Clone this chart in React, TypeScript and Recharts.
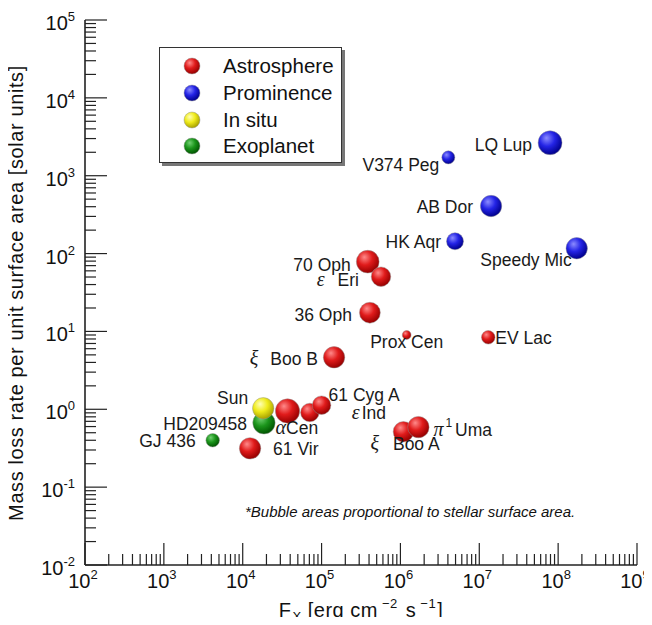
import { ScatterChart, Scatter, XAxis, YAxis, ZAxis, LabelList } from 'recharts';

// F_x [erg cm^-2 s^-1], mass loss per unit area [solar], area = relative stellar surface area
const astrosphere = [
  { name: 'ε Ind', fx: 7.1e4, mdot: 0.91, area: 0.75 },
  { name: 'αCen', fx: 3.7e4, mdot: 0.95, area: 1.29 },
  { name: '61 Cyg A', fx: 1.0e5, mdot: 1.13, area: 0.75 },
  { name: '61 Vir', fx: 1.24e4, mdot: 0.315, area: 1.0 },
  { name: 'ξ Boo A', fx: 1.09e6, mdot: 0.515, area: 0.91 },
  { name: 'π1 Uma', fx: 1.69e6, mdot: 0.59, area: 1.0 },
  { name: 'ξ Boo B', fx: 1.44e5, mdot: 4.65, area: 1.0 },
  { name: 'Prox Cen', fx: 1.2e6, mdot: 9.0, area: 0.17 },
  { name: 'EV Lac', fx: 1.3e7, mdot: 8.4, area: 0.4 },
  { name: '36 Oph', fx: 4.1e5, mdot: 17.4, area: 0.95 },
  { name: '70 Oph', fx: 3.85e5, mdot: 78.7, area: 1.13 },
  { name: 'ε Eri', fx: 5.67e5, mdot: 50.5, area: 0.83 },
];

const prominence = [
  { name: 'LQ Lup', fx: 7.9e7, mdot: 2650, area: 1.25 },
  { name: 'V374 Peg', fx: 4.05e6, mdot: 1720, area: 0.37 },
  { name: 'AB Dor', fx: 1.41e7, mdot: 408, area: 1.0 },
  { name: 'HK Aqr', fx: 4.92e6, mdot: 144, area: 0.63 },
  { name: 'Speedy Mic', fx: 1.72e8, mdot: 117, area: 1.0 },
];

const inSitu = [{ name: 'Sun', fx: 1.82e4, mdot: 1.03, area: 1.0 }];

const exoplanet = [
  { name: 'HD209458', fx: 1.86e4, mdot: 0.67, area: 1.09 },
  { name: 'GJ 436', fx: 4.16e3, mdot: 0.4, area: 0.4 },
];

const xExponents = [2, 3, 4, 5, 6, 7, 8, 9];
const yExponents = [-2, -1, 0, 1, 2, 3, 4, 5];

const legendItems = [
  { label: 'Astrosphere', color: 'red' },
  { label: 'Prominence', color: 'blue' },
  { label: 'In situ', color: 'yellow' },
  { label: 'Exoplanet', color: 'green' },
];

const footnote = '*Bubble areas proportional to stellar surface area.';

// ---- layout / styling ----
const AXIS = '#222';
const SUN_PX = 360; // symbol area (px^2) for one solar surface area
const FONT = '"Liberation Sans", Arial, Helvetica, sans-serif';

const sphere: Record<string, [string, string, string]> = {
  red: ['#ff8a8a', '#e01b1b', '#960000'],
  blue: ['#8c8cff', '#2424e6', '#00008c'],
  yellow: ['#ffffb8', '#f0ec1c', '#a8a200'],
  green: ['#72d072', '#1b951b', '#005500'],
};

// offsets from bubble centre for the star names
const labelLayout: Record<string, { dx: number; dy: number; anchor: 'start' | 'middle' | 'end'; gap?: number }> = {
  'LQ Lup': { dx: -18, dy: 2, anchor: 'end' },
  'V374 Peg': { dx: -9, dy: 8, anchor: 'end' },
  'AB Dor': { dx: -18, dy: 1, anchor: 'end' },
  'HK Aqr': { dx: -14, dy: 1, anchor: 'end' },
  'Speedy Mic': { dx: -5, dy: 12, anchor: 'end' },
  '70 Oph': { dx: -17, dy: 3, anchor: 'end' },
  'ε Eri': { dx: -22, dy: 3, anchor: 'end', gap: 13 },
  '36 Oph': { dx: -18, dy: 2, anchor: 'end' },
  'Prox Cen': { dx: 0, dy: 7, anchor: 'middle' },
  'EV Lac': { dx: 7, dy: 1, anchor: 'start' },
  'ξ Boo B': { dx: -16, dy: 2, anchor: 'end', gap: 12 },
  Sun: { dx: -15, dy: -10, anchor: 'end' },
  HD209458: { dx: -17, dy: 1, anchor: 'end' },
  'αCen': { dx: -12, dy: 17, anchor: 'start', gap: 0 },
  '61 Cyg A': { dx: 7, dy: -10, anchor: 'start' },
  'ε Ind': { dx: 42, dy: 1, anchor: 'start', gap: 2 },
  'GJ 436': { dx: -17, dy: 1, anchor: 'end' },
  '61 Vir': { dx: 23, dy: 1, anchor: 'start' },
  'ξ Boo A': { dx: -33, dy: 12, anchor: 'start', gap: 14 },
  'π1 Uma': { dx: 15, dy: 3, anchor: 'start', gap: 3 },
};

const pow10 = (e: number) => Math.pow(10, e);
const withMinor = (exps: number[]) => {
  const out: number[] = [];
  exps.forEach((e, i) => {
    out.push(pow10(e));
    if (i < exps.length - 1) for (let m = 2; m <= 9; m++) out.push(m * pow10(e));
  });
  return out;
};
const xTicks = withMinor(xExponents);
const yTicks = withMinor(yExponents);

const exponentOf = (v: number) => {
  const l = Math.log10(v);
  return Math.abs(l - Math.round(l)) < 1e-6 ? Math.round(l) : null;
};

function XTick(props: any) {
  const { x, y, payload, side } = props;
  const exp = exponentOf(payload.value);
  const len = exp !== null ? 22 : 11;
  const dir = side === 'bottom' ? -1 : 1;
  return (
    <g>
      <line x1={x} x2={x} y1={y} y2={y + dir * len} stroke={AXIS} strokeWidth={1.2} />
      {side === 'bottom' && exp !== null && (
        <text x={x - 2} y={y + 23} textAnchor="middle" fontSize={20} fill="#111" fontFamily={FONT}>
          10
          <tspan fontSize={13} dy={-9}>{exp}</tspan>
        </text>
      )}
    </g>
  );
}

function YTick(props: any) {
  const { x, y, payload, side } = props;
  const exp = exponentOf(payload.value);
  const len = exp !== null ? 22 : 11;
  const dir = side === 'left' ? 1 : -1;
  return (
    <g>
      <line x1={x} x2={x + dir * len} y1={y} y2={y} stroke={AXIS} strokeWidth={1.2} />
      {side === 'left' && exp !== null && (
        <text x={x - 10} y={y + 10} textAnchor="end" fontSize={20} fill="#111" fontFamily={FONT}>
          10
          <tspan fontSize={13} dy={-9}>{exp}</tspan>
        </text>
      )}
    </g>
  );
}

function bubbleLabel(props: any) {
  const vb = props.viewBox && props.viewBox.width !== undefined ? props.viewBox : props;
  const cx = vb.x + (vb.width || 0) / 2;
  const cy = vb.y + (vb.height || 0) / 2;
  const name = String(props.value);
  const lay = labelLayout[name] || { dx: 14, dy: 0, anchor: 'start' };
  const m = name.match(/^([α-ω])(\d?)\s*(.*)$/);
  return (
    <text x={cx + lay.dx} y={cy + lay.dy + 6} textAnchor={lay.anchor} fontSize={17.5} fill="#1a1a1a" fontFamily={FONT}>
      {m ? (
        <>
          <tspan fontFamily='"Liberation Serif", "Times New Roman", serif' fontStyle="italic" fontSize={20}>
            {m[1]}
          </tspan>
          {m[2] && (
            <tspan fontSize={12} dy={-9} dx={2}>
              {m[2]}
            </tspan>
          )}
          <tspan dx={lay.gap ?? 4} dy={m[2] ? 9 : 0}>
            {m[3]}
          </tspan>
        </>
      ) : (
        name
      )}
    </text>
  );
}

function YTitle() {
  return (
    <text
      x={23}
      y={293}
      transform="rotate(-90 23 293)"
      textAnchor="middle"
      fontSize={20}
      letterSpacing={0.6}
      fill="#111"
      fontFamily={FONT}
    >
      Mass loss rate per unit surface area [solar units]
    </text>
  );
}

function XTitle() {
  return (
    <text x={361} y={617} textAnchor="middle" fontSize={20} letterSpacing={0.5} fill="#111" fontFamily={FONT}>
      F
      <tspan fontSize={13} dy={4} dx={1}>X</tspan>
      <tspan dy={-4}> [erg cm</tspan>
      <tspan fontSize={13} dy={-9} dx={4}>−2</tspan>
      <tspan dy={9} dx={2}> s</tspan>
      <tspan fontSize={13} dy={-9} dx={4}>−1</tspan>
      <tspan dy={9} dx={1}>]</tspan>
    </text>
  );
}

function LegendDot({ color }: { color: string }) {
  const [a, b, c] = sphere[color];
  const id = 'lg-' + color;
  return (
    <svg width={20} height={20} style={{ display: 'block' }}>
      <defs>
        <radialGradient id={id} cx="40%" cy="35%" r="65%" fx="35%" fy="30%">
          <stop offset="0%" stopColor={a} />
          <stop offset="50%" stopColor={b} />
          <stop offset="100%" stopColor={c} />
        </radialGradient>
      </defs>
      <circle cx={10} cy={10} r={8} fill={`url(#${id})`} stroke="rgba(150,150,150,0.6)" strokeWidth={0.8} />
    </svg>
  );
}

const axisLine = { stroke: AXIS, strokeWidth: 1.6 };

export default function App() {
  return (
    <div style={{ position: 'relative', width: 652, height: 625, margin: -8, fontFamily: FONT, background: '#fff' }}>
      <ScatterChart width={652} height={625} margin={{ top: 20, right: 15, bottom: 0, left: 0 }}>
        <defs>
          {Object.keys(sphere).map((k) => (
            <radialGradient key={k} id={'sph-' + k} cx="40%" cy="35%" r="65%" fx="35%" fy="30%">
              <stop offset="0%" stopColor={sphere[k][0]} />
              <stop offset="50%" stopColor={sphere[k][1]} />
              <stop offset="100%" stopColor={sphere[k][2]} />
            </radialGradient>
          ))}
        </defs>
        <XAxis
          type="number"
          dataKey="fx"
          scale="log"
          domain={[pow10(2), pow10(9)]}
          ticks={xTicks}
          interval={0}
          allowDataOverflow
          tickLine={false}
          tickSize={0}
          tickMargin={0}
          axisLine={axisLine}
          height={60}
          tick={(p: any) => <XTick {...p} side="bottom" />}
          label={<XTitle />}
        />
        <XAxis
          xAxisId="top"
          orientation="top"
          type="number"
          scale="log"
          domain={[pow10(2), pow10(9)]}
          ticks={xTicks}
          interval={0}
          allowDataOverflow
          tickLine={false}
          tickSize={0}
          tickMargin={0}
          axisLine={axisLine}
          height={0}
          tick={(p: any) => <XTick {...p} side="top" />}
        />
        <YAxis
          type="number"
          dataKey="mdot"
          scale="log"
          domain={[pow10(-2), pow10(5)]}
          ticks={yTicks}
          interval={0}
          allowDataOverflow
          tickLine={false}
          tickSize={0}
          tickMargin={0}
          axisLine={axisLine}
          width={85}
          tick={(p: any) => <YTick {...p} side="left" />}
          label={<YTitle />}
        />
        <YAxis
          yAxisId="right"
          orientation="right"
          type="number"
          scale="log"
          domain={[pow10(-2), pow10(5)]}
          ticks={yTicks}
          interval={0}
          allowDataOverflow
          tickLine={false}
          tickSize={0}
          tickMargin={0}
          axisLine={axisLine}
          width={0}
          tick={(p: any) => <YTick {...p} side="right" />}
        />
        <ZAxis type="number" dataKey="area" domain={[0, 1.5]} range={[0, 1.5 * SUN_PX]} />
        <Scatter name="Prominence" data={prominence} fill="url(#sph-blue)" stroke="rgba(150,150,150,0.6)" strokeWidth={0.8} isAnimationActive={false}>
          <LabelList dataKey="name" content={bubbleLabel} />
        </Scatter>
        <Scatter name="Astrosphere" data={astrosphere} fill="url(#sph-red)" stroke="rgba(150,150,150,0.6)" strokeWidth={0.8} isAnimationActive={false}>
          <LabelList dataKey="name" content={bubbleLabel} />
        </Scatter>
        <Scatter name="Exoplanet" data={exoplanet} fill="url(#sph-green)" stroke="rgba(150,150,150,0.6)" strokeWidth={0.8} isAnimationActive={false}>
          <LabelList dataKey="name" content={bubbleLabel} />
        </Scatter>
        <Scatter name="In situ" data={inSitu} fill="url(#sph-yellow)" stroke="rgba(150,150,150,0.6)" strokeWidth={0.8} isAnimationActive={false}>
          <LabelList dataKey="name" content={bubbleLabel} />
        </Scatter>
      </ScatterChart>

      <div
        style={{
          position: 'absolute',
          left: 159,
          top: 47,
          width: 183,
          height: 116,
          border: '1.5px solid #333',
          background: '#fff',
          boxShadow: '3px 3px 0 #777',
          boxSizing: 'border-box',
          paddingTop: 5,
        }}
      >
        {legendItems.map((it) => (
          <div key={it.label} style={{ display: 'flex', alignItems: 'center', height: 26.7 }}>
            <div style={{ marginLeft: 22, width: 20 }}>
              <LegendDot color={it.color} />
            </div>
            <span style={{ marginLeft: 21, fontSize: 20.5, color: '#111', lineHeight: '24px' }}>{it.label}</span>
          </div>
        ))}
      </div>

      <div style={{ position: 'absolute', left: 245, top: 503, fontSize: 15, fontStyle: 'italic', color: '#111', lineHeight: '18px', whiteSpace: 'nowrap' }}>
        {footnote}
      </div>
    </div>
  );
}
